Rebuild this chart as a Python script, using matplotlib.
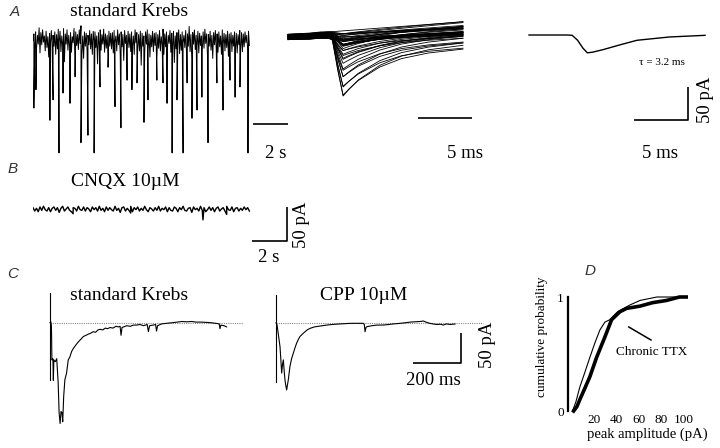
import numpy as np
import matplotlib
matplotlib.use('Agg')
import matplotlib.pyplot as plt

plt.rcParams['font.family'] = ['Liberation Serif', 'DejaVu Serif']

# --- A: spontaneous currents in standard Krebs (baseline wiggle every 0.05 s, pA)
krebs_noise = [
    -4, 6, -12, 9, -16, 4, -9, 15, -22, 8,
    -10, 12, -6, 3, -19, 10, -14, 2, -28, 7,
    -8, 11, -15, 4, -12, 9, -24, 5, -16, 13,
    -6, 10, -20, 3, -11, 14, -35, 6, -9, 12,
    -18, 4, -13, 8, -21, 2, -7, 14, -26, 9,
    -11, 5, -17, 12, -8, 18, -23, 3, -30, 9,
    -12, 7, -19, 4, -10, 11, -16, 6, -24, 10,
    -5, 9, -14, 3, -38, 8, -11, 12, -18, 5,
    -9, 13, -21, 6, -15, 4, -27, 10, -12, 7,
    -16, 8, -22, 11, -6, 3, -19, 12, -10, 6,
    -25, 9, -13, 5, -33, 11, -8, 4, -17, 10,
    -14, 6, -20, 9, -11, 3, -24, 12, -7, 8,
    -15, 5, -19, 10, -40, 7, -12, 3, -22, 9,
    -9, 12, -16, 6, -28, 4, -13, 10, -20, 7,
    -11, 8, -29, 5, -15, 11, -19, 2, -10, 13,
    -24, 6, -13, 9, -17, 4, -8, 11, -21, 7,
    -12, 10, -36, 3, -16, 8, -10, 12, -23, 5,
    -18, 9, -7, 4, -14, 11, -25, 6, -12, 17,
    -20, 5, -31, 8, -9, 12, -17, 4, -13, 10,
    -22, 7, -11, 3, -19, 9, -15, 13, -8, 6,
    -26, 5, -12, 10, -18, 4, -30, 8, -10, 11,
    -16, 6, -21, 9, -13, 3, -24, 12, -9, 7,
    -19, 5, -14, 10, -27, 6, -11, 8, -20, 4,
    -12, 9, -17, 7, -22, 5, -10, 11, -15, 8,
    -20, 6, -13, 9, -7, 4, -16, 10, -11,
]
krebs_dt = 0.05  # s
# large events (s, pA)
krebs_event_t = [0.05, 0.17, 0.97, 1.15, 1.49, 1.72, 2.12, 2.41, 2.75, 3.15,
                 3.5, 3.84, 4.3, 4.7, 5.04, 5.39, 5.67, 5.96, 6.36, 6.59,
                 7.1, 7.45, 7.68, 7.97, 8.25, 8.6, 8.83, 9.11, 9.4, 9.68,
                 10.03, 10.54, 10.89, 11.29, 11.58, 11.86, 12.32]
krebs_event_amp = [103, 76, 121, 91, 169, 81, 96, 57, 154, 143,
                   169, 72, 43, 101, 132, 62, 76, 66, 124, 91,
                   62, 66, 96, 169, 91, 169, 66, 118, 106, 87,
                   154, 66, 106, 62, 87, 72, 169]

# overlaid sweeps (ms) and their normalised shape
sweep_t = [0, 2.0, 3.0, 3.7, 4.1, 4.6, 5.1, 5.6, 6.5, 8.5, 10.5, 13.0, 16.2]
sweep_shape = [0, 0, -0.03, -0.02, 0.02, 0.55, 1.0, 0.9, 0.74, 0.5, 0.35, 0.25, 0.18]
sweep_amp = [92, 85, 78, 72, 66, 60, 54, 48, 43, 38,
             34, 30, 27, 25, 23, 21, 19, 18, 17, 16,
             15, 14, 13, 12, 11, 10, 9, 8, 7, 6,
             5, 5, 4, 3, 3, 2, 1, 0, 0, 0]
sweep_drift = [2, 0, 4, -2, 6, 3, 8, 5, 10, 7,
               12, 9, 6, 14, 11, 16, 8, 12, 10, 13,
               9, 15, 11, 7, 14, 10, 12, 8, 16, 11,
               13, 9, 22, 6, 18, 10, 24, 12, 5, 20]
sweep_off = [2, -3, 1, -2, 4, -1, 3, -4, 0, 2,
             -2, 1, -3, 3, -1, 4, -4, 2, 0, -2,
             1, 3, -3, -1, 2, 4, -2, 0, 1, -4,
             3, -1, 2, -3, 0, 4, -2, 1, -1, 3]

# averaged event (ms, pA)
avg_t = [0, 3.6, 4.0, 4.5, 5.0, 5.4, 5.9, 6.9, 8.4, 10.0, 13.0, 16.3]
avg_i = [0, 0, -0.5, -8, -20, -27, -26, -22, -15, -8, -3, -0.5]

# --- B: CNQX 10 uM (every 0.1 s, pA)
cnqx_noise = [
    2, -3, 1, -4, 3, -2, 4, -1, -3, 2,
    -4, 1, 3, -2, 2, -5, 1, 4, -3, 0,
    3, -2, -4, 2, 1, -3, 4, -1, -2, 3,
    -3, 2, 0, -4, 3, -1, 2, -3, 4, -2,
    1, -4, 3, -2, 2, -1, -3, 4, -2, 1,
    -5, 2, 3, -3, 1, -2, 4, -4, 2, -1,
    3, -3, 1, -2, 4, -1, -4, 2, 0, -3,
    2, -2, 4, -3, 1, -1, 3, -4, 2, -2,
    -3, 3, 1, -4, 2, -1, 4, -2, -3, 1,
    2, -5, 3, -1, 1, -3, 4, -2, 2, -4,
    -1, 3, -2, 2, -4, 1, 3, -3, 0, 2,
    -3, 4, -1, -2, 3, -4, 1, 2, -3, 1,
    -2, 3, -1, 2, -3,
]
cnqx_dt = 0.1  # s
cnqx_event_t = [2.3, 5.6, 9.74, 11.1]
cnqx_event_amp = [7, 6, 16, 8]

# --- C: evoked currents (ms, pA)
krebs_evk_t = [0, 3, 6, 8, 12, 14, 16, 22, 28, 34, 38, 42, 46, 50, 53, 57, 62, 69, 76, 83,
               90, 97, 108, 118, 130, 139, 150, 160, 167, 180, 190, 200, 208, 220, 230, 240,
               250, 262, 275, 285, 292, 296, 300, 320, 335, 347, 360, 375, 390, 405, 410, 415,
               430, 440, 444, 448, 465, 486, 510, 530, 550, 569, 590, 610, 630, 653, 670, 690,
               705, 708, 712, 725, 736]
krebs_evk_i = [0, 2, -5, -62, -60, -96, -62, -65, -60, -100, -150, -168, -148, -150, -165, -123,
               -95, -84, -62, -57, -48, -43, -37, -32, -27, -23, -21, -19, -18, -15, -16, -12,
               -11, -12, -9, -10, -8, -9, -6, -7, -6, -21, -8, -5, -6, -4, -4, -3, -5, -3, -15,
               -5, -4, -3, -14, -5, -2, -1, 0, 1, 2, 1.5, 2, 1, 1, 0.5, 0, -1, -2, -10, -4, -5, -7]
cpp_evk_t = [0, 4, 10, 16.7, 20, 23.6, 27, 30.6, 34, 37.5, 41, 44.4, 48, 51, 58, 65, 72, 79, 86,
             93, 100, 110, 121, 130, 142, 160, 183, 210, 239, 270, 308, 340, 364, 368, 371, 375,
             378, 400, 420, 447, 470, 490, 517, 540, 560, 586, 600, 614, 625, 640, 656, 670,
             685, 697, 710, 725, 746]
cpp_evk_i = [0, -3, -20, -40, -60, -84, -70, -62, -80, -96, -105, -112, -103, -96, -73, -60, -51,
             -42, -34, -28, -23, -19, -15, -12, -9.4, -7, -5.6, -4, -2.8, -2, -1.1, -1, -1.1, -3,
             -15, -8, -6.7, -5, -4, -3.9, -3, -2, -1.1, 0, 1, 1.7, 2, 2.8, 1, -1, -2.2, -3, -2.5,
             -3.9, -2, -3, -2.2]
krebs_artifact = [49.5, -95.5]
cpp_artifact = [46, -99]
krebs_base_end = 804
cpp_base_end = 862

# --- D: cumulative amplitude distributions
ctrl_amp = [1, 4, 7.5, 12, 16.4, 21, 25.3, 29.8, 34, 41, 52, 61, 76, 102]
ctrl_prob = [0, 0.08, 0.21, 0.34, 0.47, 0.6, 0.71, 0.78, 0.8, 0.87, 0.93, 0.97, 1.0, 1.0]
ttx_amp = [2, 5, 7.5, 12, 16.4, 22.4, 29.8, 35.7, 43, 49, 61, 72, 84.6, 96, 102]
ttx_prob = [0, 0.04, 0.1, 0.2, 0.3, 0.47, 0.65, 0.8, 0.87, 0.9, 0.92, 0.95, 0.97, 1.0, 1.0]

W, H = 720, 448
fig = plt.figure(figsize=(7.2, 4.48), dpi=100)


def panel(box, origin, sx, sy):
    # box in pixels, origin = pixel of (0, 0), sx/sy = pixels per unit
    x0, y0, x1, y1 = box
    ox, oy = origin
    ax = fig.add_axes([x0 / W, 1 - y1 / H, (x1 - x0) / W, (y1 - y0) / H])
    ax.set_xlim((x0 - ox) / sx, (x1 - ox) / sx)
    ax.set_ylim((oy - y1) / sy, (oy - y0) / sy)
    ax.axis('off')
    return ax


def label(x, y, s, size=13.5, **kw):
    fig.text(x / W, 1 - y / H, s, ha='center', va='center', fontsize=size, **kw)


def trace_with_events(noise, dt, events_t, events_amp):
    t = np.concatenate([np.arange(len(noise)) * dt, events_t])
    i = np.concatenate([noise, -np.array(events_amp, dtype=float)])
    order = np.argsort(t)
    return t[order], i[order]


bar = dict(color='black', lw=1.2, solid_capstyle='butt')

# A1
ax = panel((33, 15, 300, 162), (33, 38), 17.45, 0.68)
t, i = trace_with_events(krebs_noise, krebs_dt, krebs_event_t, krebs_event_amp)
ax.plot(t, i, color='black', lw=0.7)
ax.plot([12.6, 14.6], [-126, -126], **bar)

# A2
ax = panel((285, 15, 480, 162), (288, 37), 10.8, 0.66)
st = np.array(sweep_t)
for a, d, o in zip(sweep_amp, sweep_drift, sweep_off):
    ax.plot(st, o + d * st / st[-1] - a * np.array(sweep_shape), color='black', lw=0.6)
ax.plot([12, 17], [-123, -123], **bar)

# A3
ax = panel((520, 15, 718, 162), (529, 35), 10.8, 0.66)
ax.plot(avg_t, avg_i, color='black', lw=1.0)
ax.plot([9.7, 14.7, 14.7], [-129, -129, -79], **bar)

# B
ax = panel((33, 188, 310, 265), (33, 209), 17.45, 0.68)
t, i = trace_with_events(cnqx_noise, cnqx_dt, cnqx_event_t, cnqx_event_amp)
ax.plot(t, i, color='black', lw=1.0)
ax.plot([12.55, 14.55, 14.55], [-47, -47, 3], **bar)

# C
for box, org, tt, ii, art, bend in [
        ((40, 285, 250, 440), (50, 322.7), krebs_evk_t, krebs_evk_i, krebs_artifact, krebs_base_end),
        ((266, 285, 495, 440), (276, 322.7), cpp_evk_t, cpp_evk_i, cpp_artifact, cpp_base_end)]:
    ax = panel(box, org, 0.24, 0.6)
    ax.plot([0, bend], [0, 0], color='#888888', lw=0.8, ls=(0, (1, 1)))
    ax.plot([0, 0], art, color='black', lw=0.8)
    ax.plot(tt, ii, color='black', lw=0.8)
ax.plot([571, 771, 771], [-67, -67, -17], **bar)

# D
ax = fig.add_axes([568 / W, 1 - 411 / H, (715 - 568) / W, (411 - 297) / H])
ax.plot(ctrl_amp, ctrl_prob, color='black', lw=0.8, clip_on=False)
ax.plot(ttx_amp, ttx_prob, color='black', lw=2.6, clip_on=False)
ax.plot([51, 70.7], [0.737, 0.623], color='black', lw=1.1)
ax.set_xlim(-3, 127.6)
ax.set_ylim(0, 1)
for s in ['top', 'right', 'bottom']:
    ax.spines[s].set_visible(False)
ax.spines['left'].set_linewidth(1.6)
ax.set_xticks([20, 40, 60, 80, 100])
ax.set_yticks([0, 1])
ax.tick_params(length=0, labelsize=9.5, pad=2)
ax.tick_params(axis='y', pad=3)
ax.patch.set_alpha(0)

# texts
lett = dict(size=11, family=['Liberation Sans', 'DejaVu Sans'], style='italic', color='#333333')
label(15, 12, 'A', **lett)
label(13, 169, 'B', **lett)
label(13, 274, 'C', **lett)
label(590, 271, 'D', **lett)

label(129, 12, 'standard Krebs', size=14)
label(276, 153, '2 s')
label(465, 153, '5 ms')
label(660, 153, '5 ms')
label(662, 62, '\u03c4 = 3.2 ms', size=8)
label(706, 100, '50 pA', rotation=90)

label(125, 182, 'CNQX 10\u00b5M', size=14)
label(302, 225, '50 pA', rotation=90)
label(269, 257, '2 s')

label(129, 295, 'standard Krebs', size=14)
label(364, 295, 'CPP 10\u00b5M', size=14)
label(433, 380, '200 ms')
label(487, 345, '50 pA', rotation=90)

label(542, 337, 'cumulative probability', size=9.5, rotation=90)
label(647, 434, 'peak amplitude (pA)', size=10.5)
label(652, 352, 'Chronic TTX', size=9.5)

fig.savefig('out.png', dpi=100)
